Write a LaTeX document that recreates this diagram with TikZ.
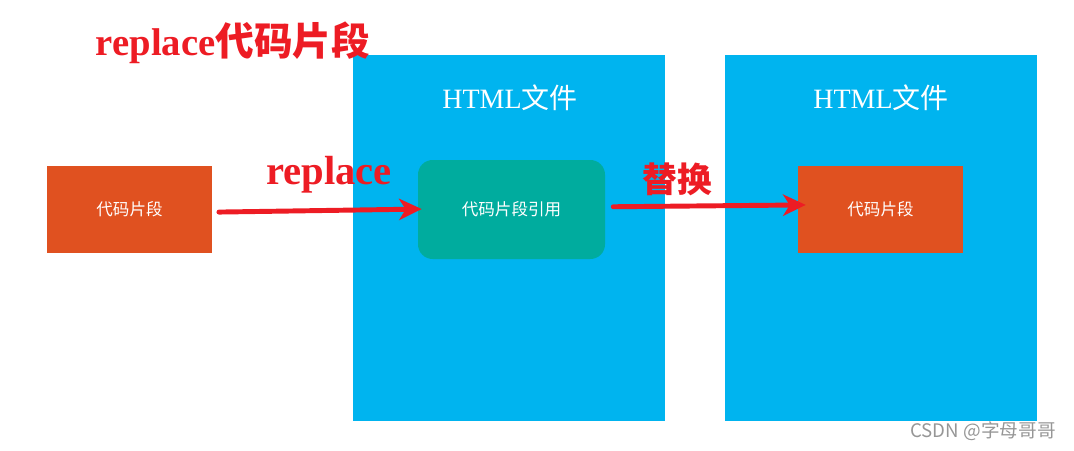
\documentclass[tikz,border=0pt]{standalone}
\usepackage{fontspec}
\setmainfont{Liberation Serif}
\newfontfamily\cjk{Noto Sans CJK SC}
\usepackage{tikz}
\usetikzlibrary{arrows.meta}
\usetikzlibrary{positioning}

\definecolor{fileblue}{RGB}{0,180,239}
\definecolor{snipred}{RGB}{224,81,32}
\definecolor{refgreen}{RGB}{0,172,158}
\definecolor{arrowred}{RGB}{237,28,36}
\definecolor{markgray}{RGB}{150,150,150}

\tikzset{
  filebox/.style={fill=fileblue, minimum width=234pt, minimum height=274.5pt, inner sep=0pt},
  snipbox/.style={fill=snipred, minimum width=123.75pt, minimum height=65.25pt, inner sep=0pt,
    text=white, font=\cjk\fontsize{12.4}{14}\selectfont},
  refbox/.style={fill=refgreen, rounded corners=11pt, minimum width=140.25pt, minimum height=74.25pt,
    inner sep=0pt, text=white, font=\cjk\fontsize{12.4}{14}\selectfont},
  filelabel/.style={text=white, font=\fontsize{21}{24}\selectfont},
  redlabel/.style={text=arrowred, font=\bfseries\fontsize{29}{32}\selectfont},
  redarrow/.style={draw=arrowred, line width=3.7pt, line cap=round,
    -{Stealth[length=17pt, width=16pt, inset=5pt]}}
}

\begin{document}
\begin{tikzpicture}[x=0.75pt, y=-0.75pt]
\useasboundingbox (0,0) rectangle (1074,450);

\node[filebox] (file1) at (509,238) {};
\node[filebox] (file2) at (880.5,238) {};
\node[filelabel] (head1) at (510,98) {HTML{\cjk 文件}};
\node[filelabel] (head2) at (881,98) {HTML{\cjk 文件}};

\node[snipbox] (snip) at (129.5,209.5) {代码片段};
\node[refbox] (ref) at (511.5,209.5) {代码片段引用};
\node[snipbox] (result) at (880.5,209) {代码片段};

\node[redlabel] (title) at (233,43) {replace{\cjk 代码片段}};
\node[redlabel, font=\bfseries\fontsize{30.5}{33}\selectfont] (repl) at (329,175) {replace};
\node[redlabel, font=\cjk\bfseries\fontsize{26}{30}\selectfont] (swap) at (677,179) {替换};

\draw[redarrow, shorten <=5pt, shorten >=-3pt] ([yshift=-2pt]snip.east) -- ([yshift=0.3pt]ref.west);
\draw[redarrow, shorten <=6pt, shorten >=-6pt] ([yshift=2pt]ref.east) -- ([yshift=3pt]result.west);

\node[text=markgray, font=\fontspec{Noto Sans CJK SC}\fontsize{14}{16}\selectfont] (mark) at (983,431) {CSDN @字母哥哥};

\end{tikzpicture}
\end{document}
